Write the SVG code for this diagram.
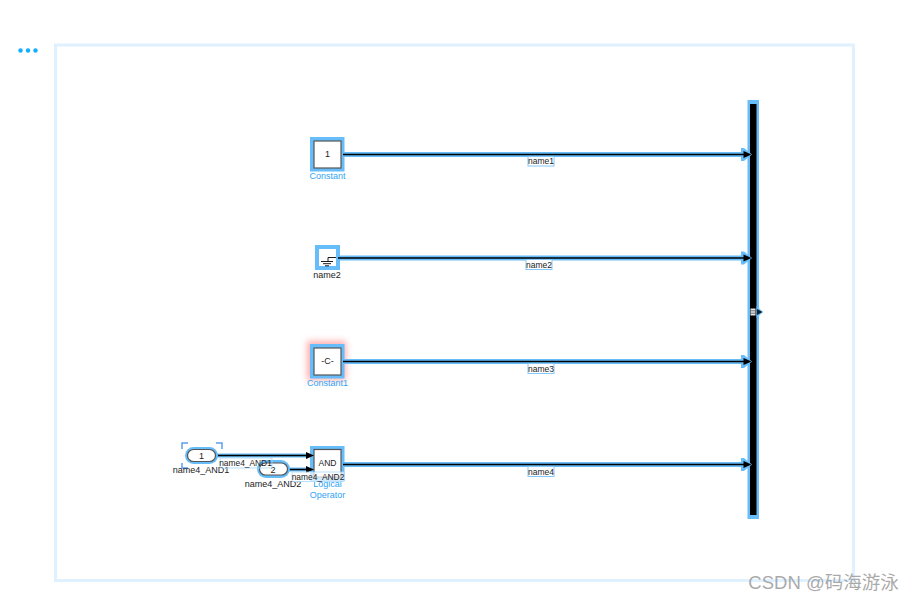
<svg xmlns="http://www.w3.org/2000/svg" width="915" height="601" viewBox="0 0 915 601">
<style>
text{font-family:"Liberation Sans",Arial,sans-serif;font-size:9px;text-anchor:middle}
.cap{fill:#33a4f5}
.blk{fill:#222}
.sm{font-size:8.500px}
.sel{fill:#67bdf9}
.box{fill:#fff;stroke:#555;stroke-width:1.200}
.halo{fill:none;stroke:#67bdf9;stroke-width:5;stroke-linecap:butt}
.wire{fill:none;stroke:#000;stroke-width:1.500}
.lab{fill:#fff;stroke:#84c8f9;stroke-width:1}
</style>
<defs>
<filter id="glow" x="-50%" y="-50%" width="200%" height="200%"><feGaussianBlur stdDeviation="3"/></filter>
<path id="ah" d="M0,-3.500 L8,0 L0,3.500 Z" fill="#000"/>
<path id="ahh" d="M0,-6.500 L3,-6.500 L11,0 L3,6.500 L0,6.500 Z" fill="#67bdf9"/>
</defs>
<rect x="55.500" y="45" width="798" height="535.500" fill="#fff" stroke="#dff0ff" stroke-width="3"/>
<g id="menu" fill="#12aeff"><circle cx="20.500" cy="50.500" r="2.200"/><circle cx="28" cy="50.500" r="2.200"/><circle cx="35.500" cy="50.500" r="2.200"/></g>
<g id="Constant"><rect class="sel" x="310" y="137" width="34.500" height="34.500"/><rect class="box" x="314" y="141" width="27" height="27"/><text x="327.500" y="157" class="blk">1</text><text x="327.500" y="179" class="cap">Constant</text></g>
<g id="name2"><rect class="sel" x="315" y="245" width="25" height="25"/><rect x="319" y="249" width="17" height="17" fill="#fff"/><path d="M336,257.500H328V261M321,261.500H333M323,263.700H331M325,265.800H329" fill="none" stroke="#000" stroke-width="0.900"/><text x="327" y="278" class="blk">name2</text></g>
<g id="Constant1"><rect x="307" y="341" width="39" height="39" fill="#ff6060" opacity="0.500" filter="url(#glow)"/><rect class="sel" x="310" y="344" width="34.500" height="34.500"/><rect class="box" x="314" y="348" width="27" height="27"/><text x="327.500" y="364" class="blk">-C-</text><text x="327.500" y="386" class="cap">Constant1</text></g>
<g id="LogicalOperator"><rect class="sel" x="310" y="446" width="34.500" height="35"/><rect class="box" x="314" y="449.500" width="27" height="27.500"/><text x="327.500" y="465.500" class="blk" style="font-size:8.500px">AND</text><text x="327.500" y="487" class="cap">Logical</text><text x="327.500" y="498" class="cap">Operator</text></g>
<g id="Mux"><rect class="sel" x="747.500" y="100" width="11.500" height="419"/><rect x="750" y="104" width="6.500" height="411" fill="#000"/><path d="M756.500,306 L763,312 L756.500,318 Z" fill="#67bdf9"/><path d="M757,309 L762.500,312 L757,315 Z" fill="#123"/><rect x="750.500" y="308.500" width="5" height="7" fill="#e4e4e4"/><path d="M750.500,310.800H755.500M750.500,313.200H755.500" stroke="#444" stroke-width="0.700"/></g>
<g id="connectors">
<path class="halo" d="M344,154.500H742M339,258H742M344,361.500H742M344,464.500H742"/>
<use href="#ahh" x="741" y="154.500"/><use href="#ahh" x="741" y="258"/><use href="#ahh" x="741" y="361.500"/><use href="#ahh" x="741" y="464.500"/>
<path class="wire" d="M343,154.500H746M338,258H746M343,361.500H746M343,464.500H746"/>
<use href="#ah" x="743.500" y="154.500"/><use href="#ah" x="743.500" y="258"/><use href="#ah" x="743.500" y="361.500"/><use href="#ah" x="743.500" y="464.500"/>
<path fill="none" stroke="#67bdf9" stroke-width="4" d="M216,455.500H308M288,469.500H308"/>
<path class="wire" d="M216,455.500H310M288,469.500H310"/>
<use href="#ah" x="306" y="455.500"/><use href="#ah" x="306" y="469.500"/>
</g>
<g id="label1"><rect class="lab" x="528" y="156.500" width="26" height="9.500"/><text x="541" y="164.300" class="blk sm">name1</text></g>
<g id="label2"><rect class="lab" x="526" y="259.500" width="26" height="10"/><text x="539" y="267.500" class="blk sm">name2</text></g>
<g id="label3"><rect class="lab" x="528" y="363.500" width="26" height="10"/><text x="541" y="371.500" class="blk sm">name3</text></g>
<g id="label4"><rect class="lab" x="528" y="466.500" width="26" height="10"/><text x="541" y="474.500" class="blk sm">name4</text></g>
<g id="In1"><path d="M182,449V443H188M216,443H222V449M182,463V468H188" fill="none" stroke="#5b9ff0" stroke-width="1.500"/><rect x="185" y="447" width="33" height="17" rx="8.500" class="sel"/><rect x="187.500" y="449.500" width="28" height="12" rx="6" class="box"/><text x="201.500" y="459" class="blk">1</text><text x="201" y="473" class="blk">name4_AND1</text></g>
<g id="In2"><rect x="257" y="460" width="33" height="18" rx="9" class="sel"/><rect x="259.500" y="463" width="28" height="12" rx="6" class="box"/><text x="273" y="472.500" class="blk">2</text><text x="273" y="487" class="blk">name4_AND2</text></g>
<g id="label5"><rect x="220" y="458" width="52" height="10" fill="none" stroke="#a8d8fb" stroke-width="0.800"/><text x="245.500" y="465.500" class="blk" style="font-size:8.400px">name4_AND1</text></g>
<g id="label6"><rect x="292" y="472" width="52" height="9.500" fill="#fff" fill-opacity="0.700" stroke="#a8d8fb" stroke-width="0.800"/><text x="318" y="479.500" class="blk" style="font-size:8.400px">name4_AND2</text></g>
<text x="823.500" y="589" style="font-family:'Liberation Sans','Noto Sans CJK SC',sans-serif;font-size:18.500px;fill:#9a9a9a;fill-opacity:.85">CSDN @码海游泳</text>
</svg>
